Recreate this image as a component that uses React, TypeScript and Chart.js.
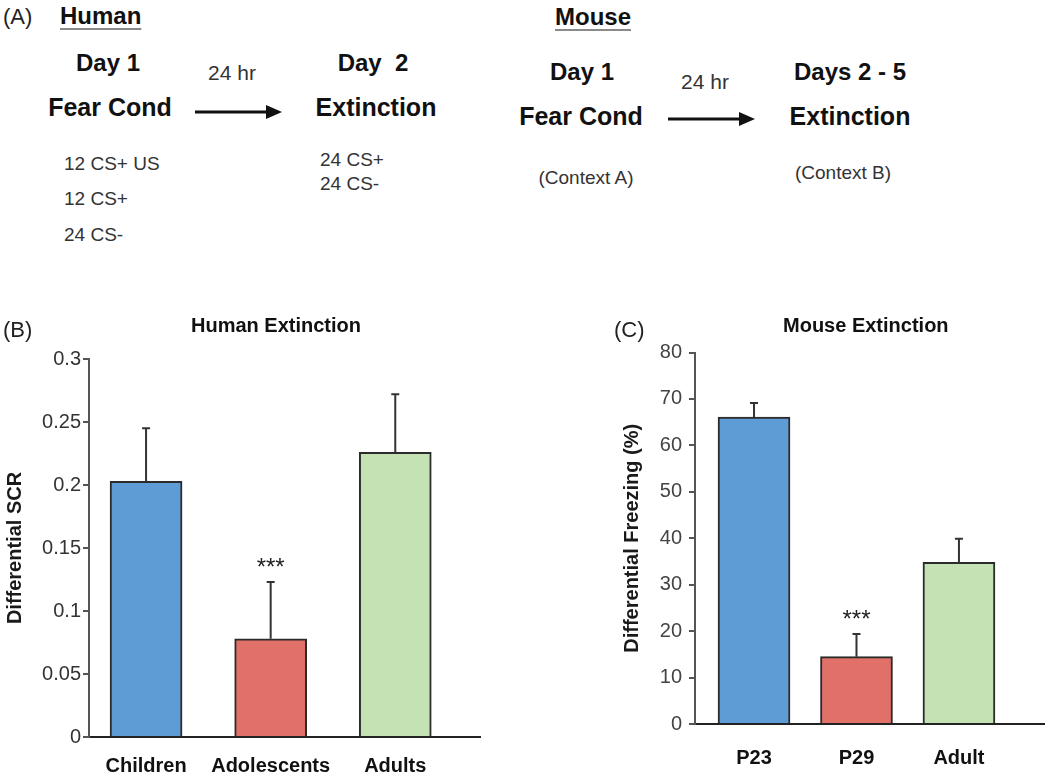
import React, { useEffect, useRef } from 'react';
import { Chart, registerables } from 'chart.js';

Chart.register(...registerables);

const FONT = '"Liberation Sans", Arial, Helvetica, sans-serif';
Chart.defaults.font.family = FONT;

// ---- Panel B: Human extinction ----
const humanGroups = ['Children', 'Adolescents', 'Adults'];
const humanMeans = [0.203, 0.078, 0.226];
const humanSem = [0.042, 0.045, 0.046];
const humanSig = ['', '***', ''];
const humanTicks = [0, 0.05, 0.1, 0.15, 0.2, 0.25, 0.3];

// ---- Panel C: Mouse extinction ----
const mouseGroups = ['P23', 'P29', 'Adult'];
const mouseMeans = [66.1, 14.5, 34.8];
const mouseSem = [3.0, 4.9, 5.1];
const mouseSig = ['', '***', ''];
const mouseTicks = [0, 10, 20, 30, 40, 50, 60, 70, 80];

const barColors = ['#5E9CD6', '#E07068', '#C4E2B4'];

function errorBarPlugin(sem: number[], sig: string[]) {
  return {
    id: 'errorBars',
    afterDatasetsDraw(chart: any) {
      const ctx = chart.ctx;
      const meta = chart.getDatasetMeta(0);
      const yScale = chart.scales.y;
      const data = chart.data.datasets[0].data as any[];
      ctx.save();
      meta.data.forEach((bar: any, i: number) => {
        const top = yScale.getPixelForValue(data[i].y + sem[i]);
        const x = bar.x;
        ctx.strokeStyle = '#333';
        ctx.lineWidth = 2;
        ctx.beginPath();
        ctx.moveTo(x, bar.y);
        ctx.lineTo(x, top);
        ctx.moveTo(x - 4, top);
        ctx.lineTo(x + 4, top);
        ctx.stroke();
        if (sig[i]) {
          ctx.fillStyle = '#222';
          ctx.font = `24px ${FONT}`;
          ctx.textAlign = 'center';
          ctx.textBaseline = 'alphabetic';
          ctx.fillText(sig[i], x, top - 7);
        }
      });
      ctx.restore();
    },
  };
}

type Cfg = {
  groups: string[];
  means: number[];
  sem: number[];
  sig: string[];
  ticks: number[];
  xMin: number;
  xMax: number;
  yTitle: string;
  yWidth: number;
  xHeight: number;
  padTop: number;
  padRight: number;
  tickPad: number;
  xLabelPad: number;
  titlePad: number;
  tickColor: string;
  width: number;
  height: number;
};

function BarPanel({ cfg }: { cfg: Cfg }) {
  const ref = useRef<HTMLCanvasElement | null>(null);
  useEffect(() => {
    if (!ref.current) return;
    const chart = new Chart(ref.current, {
      type: 'bar',
      data: {
        datasets: [
          {
            data: cfg.means.map((v, i) => ({ x: i, y: v })),
            backgroundColor: barColors,
            borderColor: '#2b2b2b',
            borderWidth: 2,
            barThickness: 72,
          } as any,
        ],
      },
      options: {
        responsive: false,
        animation: false,
        layout: { padding: { top: cfg.padTop, right: cfg.padRight, bottom: 0, left: 0 } },
        plugins: { legend: { display: false }, tooltip: { enabled: false }, title: { display: false } },
        scales: {
          x: {
            type: 'linear',
            offset: false,
            min: cfg.xMin,
            max: cfg.xMax,
            afterBuildTicks: (s: any) => {
              s.ticks = cfg.groups.map((_, i) => ({ value: i }));
            },
            afterFit: (s: any) => {
              s.height = cfg.xHeight;
            },
            grid: { display: false, drawTicks: false },
            border: { display: true, color: '#222', width: 2 },
            ticks: {
              color: '#111',
              font: { size: 20, weight: 'bold' },
              padding: cfg.xLabelPad,
              maxRotation: 0,
              autoSkip: false,
              callback: (v: any) => cfg.groups[v] ?? '',
            },
          },
          y: {
            min: cfg.ticks[0],
            max: cfg.ticks[cfg.ticks.length - 1],
            afterBuildTicks: (s: any) => {
              s.ticks = cfg.ticks.map((v) => ({ value: v }));
            },
            afterFit: (s: any) => {
              s.width = cfg.yWidth;
            },
            grid: { drawOnChartArea: false, drawTicks: true, tickLength: 6, color: '#555', lineWidth: 2 },
            border: { display: true, color: '#555', width: 2 },
            ticks: {
              color: cfg.tickColor,
              font: { size: 20 },
              padding: cfg.tickPad,
              callback: (v: any) => String(v),
            },
            title: {
              display: true,
              text: cfg.yTitle,
              color: '#1a1a1a',
              font: { size: 20, weight: 'bold' },
              padding: { top: cfg.titlePad, bottom: 0 },
            },
          },
        },
      } as any,
      plugins: [errorBarPlugin(cfg.sem, cfg.sig)],
    });
    return () => chart.destroy();
  }, []);
  return <canvas ref={ref} width={cfg.width} height={cfg.height} />;
}

function T(props: {
  x: number;
  y: number;
  s: number;
  b?: boolean;
  a?: 'c' | 'l';
  c?: string;
  u?: boolean;
  children: React.ReactNode;
}) {
  const { x, y, s, b, a = 'c', c = '#111', u, children } = props;
  return (
    <div
      style={{
        position: 'absolute',
        left: x,
        top: y,
        transform: `translate(${a === 'c' ? '-50%' : '0'}, -50%)`,
        fontFamily: FONT,
        fontSize: s,
        fontWeight: b ? 700 : 400,
        color: c,
        whiteSpace: 'pre',
        lineHeight: 1,
        textDecoration: u ? 'underline' : 'none',
        textDecorationColor: '#8a8a8a',
        textDecorationThickness: '2px',
        textUnderlineOffset: '4px',
        zIndex: 2,
      }}
    >
      {children}
    </div>
  );
}

function Arrow({ x1, x2, y }: { x1: number; x2: number; y: number }) {
  return (
    <svg
      style={{ position: 'absolute', left: 0, top: 0, zIndex: 2 }}
      width={1050}
      height={200}
    >
      <line x1={x1} y1={y} x2={x2 - 12} y2={y} stroke="#111" strokeWidth={3} />
      <polygon points={`${x2},${y} ${x2 - 16},${y - 7} ${x2 - 16},${y + 7}`} fill="#111" />
    </svg>
  );
}

const humanCfg: Cfg = {
  groups: humanGroups,
  means: humanMeans,
  sem: humanSem,
  sig: humanSig,
  ticks: humanTicks,
  xMin: -0.458,
  xMax: 2.68,
  yTitle: 'Differential SCR',
  yWidth: 89,
  xHeight: 41,
  padTop: 69,
  padRight: 20,
  tickPad: 2,
  xLabelPad: 17,
  titlePad: 3,
  tickColor: '#333',
  width: 500,
  height: 488,
};

const mouseCfg: Cfg = {
  groups: mouseGroups,
  means: mouseMeans,
  sem: mouseSem,
  sig: mouseSig,
  ticks: mouseTicks,
  xMin: -0.576,
  xMax: 2.83,
  yTitle: 'Differential Freezing (%)',
  yWidth: 79,
  xHeight: 54,
  padTop: 62.5,
  padRight: 6,
  tickPad: 7,
  xLabelPad: 22,
  titlePad: 4,
  tickColor: '#444',
  width: 434,
  height: 488,
};

export default function App() {
  return (
    <div
      style={{
        position: 'absolute',
        left: 0,
        top: 0,
        width: 1050,
        height: 778,
        background: '#fff',
        overflow: 'hidden',
      }}
    >
      {/* Panel A: Human */}
      <T x={3} y={17} s={22} a="l" c="#222">(A)</T>
      <T x={60} y={16} s={24} b a="l" u>Human</T>
      <T x={108} y={63} s={24} b>Day 1</T>
      <T x={232} y={72} s={21} c="#333">24 hr</T>
      <T x={373} y={63} s={24} b>{'Day  2'}</T>
      <T x={110} y={107} s={25} b>Fear Cond</T>
      <Arrow x1={195} x2={282} y={112} />
      <T x={376} y={107} s={25} b>Extinction</T>
      <T x={64} y={163} s={19} a="l" c="#333">12 CS+ US</T>
      <T x={64} y={198} s={19} a="l" c="#333">12 CS+</T>
      <T x={64} y={234} s={19} a="l" c="#333">24 CS-</T>
      <T x={320} y={159} s={19} a="l" c="#333">24 CS+</T>
      <T x={320} y={183} s={19} a="l" c="#333">24 CS-</T>

      {/* Panel A: Mouse */}
      <T x={555} y={17} s={24} b a="l" u>Mouse</T>
      <T x={582} y={72} s={24} b>Day 1</T>
      <T x={705} y={81} s={21} c="#333">24 hr</T>
      <T x={850} y={72} s={24} b>Days 2 - 5</T>
      <T x={581} y={116} s={25} b>Fear Cond</T>
      <Arrow x1={668} x2={755} y={119} />
      <T x={850} y={116} s={25} b>Extinction</T>
      <T x={586} y={177} s={19} c="#333">(Context A)</T>
      <T x={843} y={172} s={19} c="#333">(Context B)</T>

      {/* Panel B */}
      <div style={{ position: 'absolute', left: 0, top: 290, width: 500, height: 488 }}>
        <BarPanel cfg={humanCfg} />
      </div>
      <T x={3} y={330} s={22} a="l" c="#222">(B)</T>
      <T x={276} y={325} s={20} b>Human Extinction</T>

      {/* Panel C */}
      <div style={{ position: 'absolute', left: 616, top: 290, width: 434, height: 488 }}>
        <BarPanel cfg={mouseCfg} />
      </div>
      <T x={614} y={330} s={22} a="l" c="#222">(C)</T>
      <T x={783} y={325} s={20} b a="l">Mouse Extinction</T>
    </div>
  );
}
